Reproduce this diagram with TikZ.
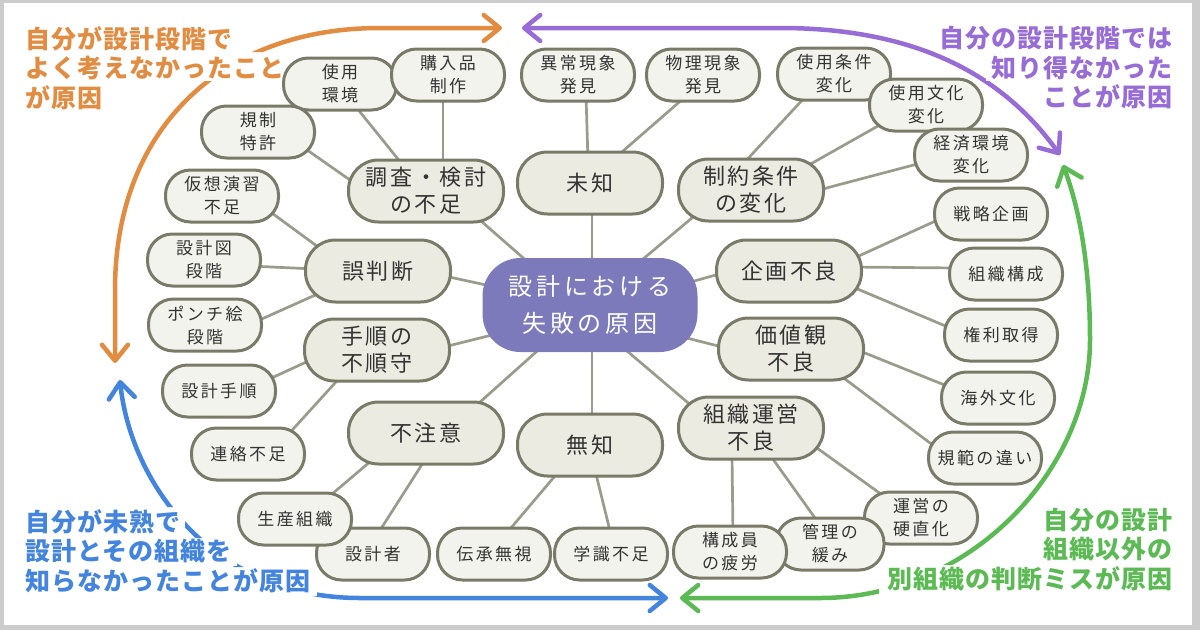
\documentclass[tikz,border=0pt]{standalone}
\usepackage{fontspec}
\setmainfont{Noto Sans CJK JP}
\newfontfamily\hubfont[LetterSpace=16]{Noto Sans CJK JP}
\newfontfamily\causefont[LetterSpace=12]{Noto Sans CJK JP}
\newfontfamily\detailfont[LetterSpace=14]{Noto Sans CJK JP}
\newfontfamily\notefont[LetterSpace=4]{Noto Sans CJK JP}
\usetikzlibrary{arrows.meta,positioning,calc,backgrounds}

\definecolor{hubfill}{RGB}{124,122,187}
\definecolor{causefill}{RGB}{235,235,226}
\definecolor{detailfill}{RGB}{243,243,237}
\definecolor{boxline}{RGB}{122,122,104}
\definecolor{linkgray}{RGB}{155,155,140}
\definecolor{framegray}{RGB}{204,204,204}
\definecolor{ownorange}{RGB}{226,140,66}
\definecolor{ownpurple}{RGB}{152,108,214}
\definecolor{ownblue}{RGB}{66,132,222}
\definecolor{owngreen}{RGB}{92,186,84}

\tikzstyle{hub} = [rectangle, rounded corners=38pt, fill=hubfill, text=white, minimum width=215pt, minimum height=94pt, align=center, font=\hubfont\fontsize{24}{37}\selectfont]
\tikzstyle{cause} = [rectangle, rounded corners=30pt, draw=boxline, line width=3pt, fill=causefill, text=black!80, minimum width=145pt, minimum height=62pt, align=center, font=\causefont\fontsize{22}{27}\selectfont]
\tikzstyle{detail} = [rectangle, rounded corners=25pt, draw=boxline, line width=3pt, fill=detailfill, text=black!80, minimum width=113pt, minimum height=52pt, align=center, font=\detailfont\fontsize{17}{23}\selectfont]
\tikzstyle{link} = [linkgray, line width=2.7pt]
\tikzstyle{bigarrow} = [line width=4.5pt, line cap=round, {Straight Barb[length=16pt,width=26pt,round]}-{Straight Barb[length=16pt,width=26pt,round]}]
\tikzstyle{note} = [inner sep=0pt, font=\notefont\bfseries\fontsize{25}{29.5}\selectfont]

\begin{document}
\begin{tikzpicture}[x=1pt,y=-1pt]
\useasboundingbox (0,0) rectangle (1200,630);

% Rahmen
\begin{pgfonlayer}{background}
\fill[framegray] (0,0) rectangle (1200,630);
\fill[white] (4,3) rectangle (1192,625);
\end{pgfonlayer}

% Mitte
\node[hub] (hub) at (590,305) {設計における\\失敗の原因};

% Ursachen
\node[cause, minimum width=155pt] (chosa) at (426,191) {調査・検討\\の不足};
\node[cause] (michi) at (590,183) {未知};
\node[cause] (seiyaku) at (751,190) {制約条件\\の変化};
\node[cause] (gohandan) at (378,271) {誤判断};
\node[cause] (kikaku) at (789,271) {企画不良};
\node[cause] (tejun) at (377,350) {手順の\\不順守};
\node[cause] (kachi) at (791,349) {価値観\\不良};
\node[cause, minimum width=155pt] (fuchui) at (426,433) {不注意};
\node[cause] (muchi) at (590,445) {無知};
\node[cause] (unei) at (751,428) {組織運営\\不良};

% Einzelheiten oben
\node[detail] (kankyo) at (340,84) {使用\\環境};
\node[detail] (kounyu) at (448,75) {購入品\\制作};
\node[detail] (kisei) at (258,132) {規制\\特許};
\node[detail] (ijou) at (578,75) {異常現象\\発見};
\node[detail] (butsuri) at (703,75) {物理現象\\発見};
\node[detail] (jouken) at (834,74) {使用条件\\変化};
\node[detail] (bunka) at (926,105) {使用文化\\変化};
\node[detail] (keizai) at (971,155) {経済環境\\変化};

% Einzelheiten links
\node[detail] (kasou) at (222,196) {仮想演習\\不足};
\node[detail] (zumen) at (204,260) {設計図\\段階};
\node[detail] (ponchi) at (205,325) {ポンチ絵\\段階};
\node[detail] (junjo) at (219,391) {設計手順};
\node[detail] (renraku) at (248,454) {連絡不足};

% Einzelheiten unten
\node[detail] (sekkeisha) at (373,554) {設計者};
\node[detail] (seisan) at (295,519) {生産組織};
\node[detail] (denshou) at (494,554) {伝承無視};
\node[detail] (gakushiki) at (611,554) {学識不足};
\node[detail] (kouchoku) at (921,518) {運営の\\硬直化};
\node[detail, minimum width=108pt] (kanri) at (830,544) {管理の\\緩み};
\node[detail] (hirou) at (730,552) {構成員\\の疲労};

% Einzelheiten rechts
\node[detail] (senryaku) at (991,214) {戦略企画};
\node[detail] (kousei) at (1006,274) {組織構成};
\node[detail] (kenri) at (1001,335) {権利取得};
\node[detail] (kaigai) at (998,398) {海外文化};
\node[detail] (kihan) at (985,458) {規範の違い};

% Linien
\begin{pgfonlayer}{background}
\draw[link] ($(chosa)+(39,16)$) -- ($(hub)+(-45,-28)$);
\draw[link] ($(michi)+(2,18)$) -- ($(hub)+(2,-35)$);
\draw[link] ($(seiyaku)+(-46,17)$) -- ($(hub)+(40,-35)$);
\draw[link] ($(gohandan)+(62,4)$) -- ($(hub)+(-90,-17)$);
\draw[link] ($(kikaku)+(-59,0)$) -- ($(hub)+(90,-20)$);
\draw[link] ($(tejun)+(63,-2)$) -- ($(hub)+(-90,28)$);
\draw[link] ($(kachi)+(-61,0)$) -- ($(hub)+(85,30)$);
\draw[link] ($(fuchui)+(44,-22)$) -- ($(hub)+(-45,39)$);
\draw[link] ($(muchi)+(2,-20)$) -- ($(hub)+(2,35)$);
\draw[link] ($(unei)+(-51,-15)$) -- ($(hub)+(30,40)$);

\draw[link] ($(kankyo)+(12,18)$) -- ($(chosa)+(-20,-22)$);
\draw[link] ($(kounyu)+(-5,20)$) -- ($(chosa)+(17,-21)$);
\draw[link] ($(kisei)+(42,13)$) -- ($(chosa)+(-66,-4)$);
\draw[link] ($(ijou)+(8,20)$) -- ($(michi)+(-2,-22)$);
\draw[link] ($(butsuri)+(-18,22)$) -- ($(michi)+(25,-25)$);
\draw[link] ($(jouken)+(-28,22)$) -- ($(seiyaku)+(-9,-25)$);
\draw[link] ($(bunka)+(-41,17)$) -- ($(seiyaku)+(49,-20)$);
\draw[link] ($(keizai)+(-46,7)$) -- ($(seiyaku)+(64,1)$);

\draw[link] ($(kasou)+(43,12)$) -- ($(gohandan)+(-53,-19)$);
\draw[link] ($(zumen)+(46,6)$) -- ($(gohandan)+(-63,-2)$);
\draw[link] ($(ponchi)+(50,-3)$) -- ($(gohandan)+(-56,21)$);
\draw[link] ($(junjo)+(46,-10)$) -- ($(tejun)+(-62,8)$);
\draw[link] ($(renraku)+(37,-16)$) -- ($(tejun)+(-32,22)$);

\draw[link] ($(seisan)+(30,-19)$) -- ($(fuchui)+(-48,22)$);
\draw[link] ($(sekkeisha)+(4,-19)$) -- ($(fuchui)+(2,22)$);
\draw[link] ($(denshou)+(11,-19)$) -- ($(muchi)+(-30,25)$);
\draw[link] ($(gakushiki)+(0,-19)$) -- ($(muchi)+(5,25)$);
\draw[link] ($(hirou)+(3,-17)$) -- ($(unei)+(-19,27)$);
\draw[link] ($(kanri)+(-10,-19)$) -- ($(unei)+(19,27)$);
\draw[link] ($(kouchoku)+(-36,-21)$) -- ($(unei)+(59,15)$);

\draw[link] ($(senryaku)+(-49,4)$) -- ($(kikaku)+(61,-11)$);
\draw[link] ($(kousei)+(-48,-6)$) -- ($(kikaku)+(61,-4)$);
\draw[link] ($(kenri)+(-46,-5)$) -- ($(kikaku)+(59,14)$);
\draw[link] ($(kaigai)+(-46,-10)$) -- ($(kachi)+(64,0)$);
\draw[link] ($(kihan)+(-43,-6)$) -- ($(kachi)+(46,24)$);
\end{pgfonlayer}

% Beschriftung
\node[note, text=ownorange, anchor=north west, align=left] (ownthought) at (25,26) {自分が設計段階で\\よく考えなかったこと\\が原因};
\node[note, text=ownpurple, anchor=north east, align=right] (unknowable) at (1173,26) {自分の設計段階では\\知り得なかった\\ことが原因};
\node[note, text=ownblue, anchor=south west, align=left] (immature) at (25,593) {自分が未熟で\\設計とその組織を\\知らなかったことが原因};
\node[note, text=owngreen, anchor=south east, align=right] (otherorg) at (1173,591) {自分の設計\\組織以外の\\別組織の判断ミスが原因};

% Pfeile rundherum (Luecken hinter den Textzeilen)
\begin{scope}
\clip (0,0) rectangle (1200,630)
  (288,52) rectangle (21,81)
  (1176,23) rectangle (933,51) (1176,53) rectangle (986,81)
  (185,507) rectangle (21,535) (237,538) rectangle (21,566) (317,567) rectangle (21,596)
  (1176,505) rectangle (1038,533) (1176,535) rectangle (1038,563) (1176,565) rectangle (879,594);
\draw[bigarrow, ownorange] (502,28) -- (380,28) .. controls (220,28) and (115,130) .. (115,290) -- (115,363);
\draw[bigarrow, ownpurple] (522,28) -- (780,28) .. controls (930,28) and (1010,85) .. (1060,155);
\draw[bigarrow, owngreen] (680,598) -- (820,598) .. controls (970,598) and (1090,470) .. (1090,340) .. controls (1090,260) and (1078,205) .. (1063,165);
\draw[bigarrow, ownblue] (120,380) .. controls (130,480) and (210,598) .. (360,598) -- (668,598);
\end{scope}

\end{tikzpicture}
\end{document}
